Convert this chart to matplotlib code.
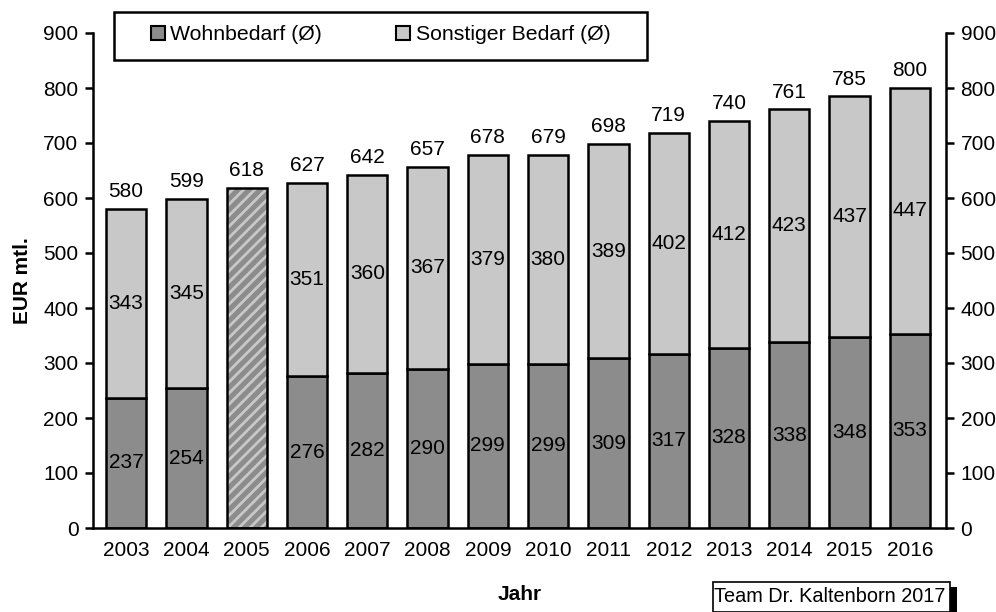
import matplotlib.pyplot as plt
from matplotlib.patches import Patch, Rectangle

plt.rcParams['font.family'] = ['Liberation Sans', 'DejaVu Sans']
plt.rcParams['hatch.linewidth'] = 2.0

# Data
years = ['2003', '2004', '2005', '2006', '2007', '2008', '2009',
         '2010', '2011', '2012', '2013', '2014', '2015', '2016']
wohn = [237, 254, None, 276, 282, 290, 299, 299, 309, 317, 328, 338, 348, 353]
sonst = [343, 345, None, 351, 360, 367, 379, 380, 389, 402, 412, 423, 437, 447]
total = [580, 599, 618, 627, 642, 657, 678, 679, 698, 719, 740, 761, 785, 800]

dark = '#8c8c8c'
light = '#c8c8c8'

fig = plt.figure(figsize=(9.96, 6.12), dpi=100)
ax = fig.add_axes([93/996, 1 - 528/612, (946 - 93)/996, (528 - 33)/612])

x = list(range(len(years)))
w = 0.67
fs = 15

for i in x:
    if wohn[i] is None:
        # 2005: only total known, hatched bar
        ax.bar(i, total[i], w, color=dark, edgecolor=light, hatch='///', linewidth=0, zorder=2)
        ax.bar(i, total[i], w, fill=False, edgecolor='black', linewidth=1.8, zorder=3)
    else:
        ax.bar(i, wohn[i], w, color=dark, edgecolor='black', linewidth=1.8, zorder=2)
        ax.bar(i, sonst[i], w, bottom=wohn[i], color=light, edgecolor='black', linewidth=1.8, zorder=2)
        ax.text(i, wohn[i] / 2, str(wohn[i]), ha='center', va='center', fontsize=fs, zorder=4)
        ax.text(i, wohn[i] + sonst[i] / 2, str(sonst[i]), ha='center', va='center', fontsize=fs, zorder=4)
    ax.text(i, total[i] + 14, str(total[i]), ha='center', va='bottom', fontsize=fs)

ax.set_xlim(-0.55, 13.6)
ax.set_ylim(0, 900)
ax.set_yticks(range(0, 901, 100))
ax.set_xticks(x)
ax.set_xticklabels(years, fontsize=fs)
ax.tick_params(axis='x', length=0, pad=9)
ax.tick_params(axis='y', direction='out', length=6, width=1.8, labelsize=fs,
               left=True, right=True, labelleft=True, labelright=True, pad=4.5)
for s in ['left', 'right', 'bottom']:
    ax.spines[s].set_linewidth(1.8)
ax.spines['top'].set_visible(False)

ax.set_ylabel('EUR mtl.', fontsize=15, fontweight='bold', labelpad=8)
ax.set_xlabel('Jahr', fontsize=15, fontweight='bold', labelpad=18)

# legend with a hand-drawn frame
fig.patches.append(Rectangle((114/996, 1 - 60/612), 533/996, 48/612, transform=fig.transFigure,
                             facecolor='white', edgecolor='black', linewidth=1.8, zorder=5))
handles = [Patch(facecolor=dark, edgecolor='black', linewidth=1.5),
           Patch(facecolor=light, edgecolor='black', linewidth=1.5)]
leg = fig.legend(handles, ['Wohnbedarf (Ø)', 'Sonstiger Bedarf (Ø)'], ncol=2,
                 loc='center left', bbox_to_anchor=(151/996, 1 - 35/612),
                 fontsize=15.3, frameon=False,
                 handlelength=0.65, handleheight=0.65, handletextpad=0.25,
                 columnspacing=3.5, borderpad=0, borderaxespad=0)
leg.set_zorder(6)

# footer box with shadow
fig.patches.append(Rectangle((718/996, 0), 239/996, 25/612, transform=fig.transFigure,
                             facecolor='black', edgecolor='none'))
fig.patches.append(Rectangle((713/996, 0), 237/996, 30/612, transform=fig.transFigure,
                             facecolor='white', edgecolor='black', linewidth=1.2))
fig.text(830/996, 15/612, 'Team Dr. Kaltenborn 2017', ha='center', va='center', fontsize=14.3)

fig.savefig('out.png', dpi=100)
